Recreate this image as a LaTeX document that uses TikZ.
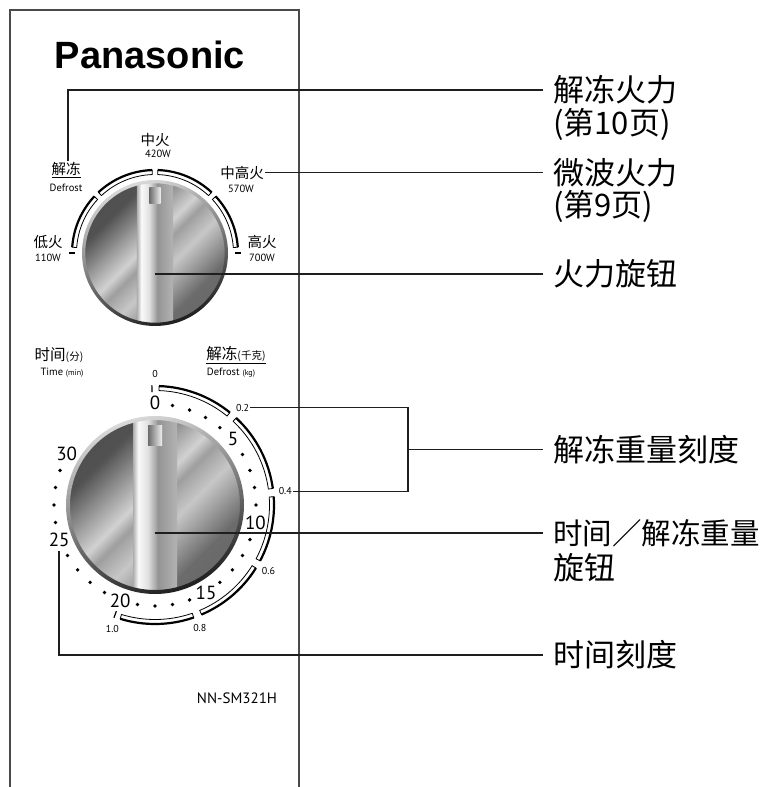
\documentclass[tikz,border=0pt]{standalone}
\usepackage{fontspec}
\newfontfamily\cjk{Noto Sans CJK SC}
\newfontfamily\dialfont{PT Sans}
\newfontfamily\logofont{Liberation Sans}
\usetikzlibrary{calc,positioning}

\definecolor{panelline}{HTML}{4A4A4A}
\definecolor{leadgray}{HTML}{1E1E1E}

% metal look of the knobs
\pgfdeclarehorizontalshading{knobface}{100bp}{color(0bp)=(black!72); color(30bp)=(black!68); color(46bp)=(black!18); color(50bp)=(black!38); color(57bp)=(black!22); color(70bp)=(black!58); color(100bp)=(black!62)}
\pgfdeclarehorizontalshading{knobgrip}{100bp}{color(0bp)=(black!32); color(25bp)=(black!32); color(31bp)=(black!2); color(42bp)=(black!12); color(51bp)=(black!35); color(53bp)=(black!42); color(75bp)=(black!30); color(100bp)=(black!30)}
\pgfdeclarehorizontalshading{knobmark}{100bp}{color(0bp)=(black!58); color(25bp)=(black!58); color(75bp)=(black!6); color(100bp)=(black!6)}

\tikzset{
  dialknob/.pic={
    \shade[shading=knobface, shading angle=-45] (0,0) circle[radius=86];
    \begin{scope}
      \clip (0,0) circle[radius=86];
      \shade[shading=knobgrip] (-22,-90) rectangle (22,90);
    \end{scope}
    \shade[shading=knobmark] (-7,60) rectangle (7,80);
    \shade[even odd rule, top color=black!15, bottom color=black!88, shading angle=20]
      (0,0) circle[radius=89] (0,0) circle[radius=85];
  },
  segin/.style={draw=black, line width=0.8, fill=white},
  segout/.style={draw=black, line width=2.2},
  dialtick/.style={draw=black, line width=1.2},
  leader/.style={draw=leadgray, line width=1.5},
  rlabel/.style={anchor=west, inner xsep=10pt, inner ysep=0pt, font=\cjk\fontsize{31}{35}\selectfont},
  plabel/.style={inner sep=1pt, font=\cjk\fontsize{14.5}{16}\selectfont},
  pwatt/.style={inner sep=1pt, font=\dialfont\fontsize{10.5}{12}\selectfont},
  minnum/.style={inner sep=1pt, font=\dialfont\fontsize{19}{20}\selectfont},
  kgnum/.style={inner sep=1pt, font=\dialfont\fontsize{10}{11}\selectfont},
}

% one segment of a double-line scale: centre, inner r, outer r, from, to
\newcommand\dialseg[5]{%
  \draw[segin] ($(#1)+(#4:#2)$) arc[start angle=#4, end angle=#5, radius=#2]
    -- ($(#1)+(#5:#3)$) arc[start angle=#5, end angle=#4, radius=#3] -- cycle;
  \draw[segout] ($(#1)+(#4:#3)$) arc[start angle=#4, end angle=#5, radius=#3];}

\begin{document}
\begin{tikzpicture}[x=1pt, y=1pt]
\useasboundingbox (0,0) rectangle (767,-787);

% PANEL

\draw[panelline, line width=1.2] (10,-787) -- (10,-10) -- (299,-10) -- (299,-787);
\node[font=\logofont\bfseries\fontsize{38}{40}\selectfont] (logo) at (150,-55) {Panasonic};
\node[font=\dialfont\fontsize{15}{18}\selectfont] (model) at (237,-698) {NN-SM321H};

% POWER KNOB

\coordinate (pc) at (155,-253);
\coordinate (pgrip) at (155,-274);
\pic[scale=0.82] at (pc) {dialknob};

% Power scale
\foreach \a/\b in {176/137, 133/92, 88/47, 43/4}
  \dialseg{pc}{78.5}{83}{\a}{\b};
\draw[dialtick] ($(pc)+(180:80)$) -- ($(pc)+(180:86)$);
\draw[dialtick] ($(pc)+(0:80)$) -- ($(pc)+(0:86)$);

% Power labels
\node[plabel] (pMid) at (155,-140) {中火};
\node[pwatt] (pMidW) at (158,-154) {420W};
\node[plabel] (pDef) at (66,-170) {\underline{解冻}};
\node[pwatt] (pDefE) at (66,-188) {Defrost};
\node[plabel] (pMH) at (242,-172.5) {中高火};
\node[pwatt] (pMHW) at (241,-189) {570W};
\node[plabel] (pLow) at (48,-242) {低火};
\node[pwatt] (pLowW) at (48,-258) {110W};
\node[plabel] (pHi) at (262,-242) {高火};
\node[pwatt] (pHiW) at (262,-258) {700W};

% TIME / DEFROST KNOB

\coordinate (tc) at (155,-505);
\coordinate (tgrip) at (155,-533);
\pic at (tc) {dialknob};

% Time scale
\foreach \k in {0,...,5}
  \foreach \j in {1,...,4}
    \fill ($(tc)+({90-10*(5*\k+\j)}:101)$) circle[radius=1.9];
\foreach \n in {0,5,...,30}
  \node[minnum] (t\n) at ($(tc)+({90-10*\n}:102)$) {\n};

% Defrost weight scale
\foreach \a/\b in {88/51, 47/8, 4/-28, -32/-67, -71/-107}
  \dialseg{tc}{114.5}{119}{\a}{\b};
\draw[dialtick] ($(tc)+(91.5:113)$) -- ($(tc)+(91.5:120)$);
\draw[dialtick] ($(tc)+(-110:113)$) -- ($(tc)+(-110:120)$);
\foreach \a/\t/\n in {90/0/kg0, 48/0.2/kg2, 6/0.4/kg4, -30/0.6/kg6, -70/0.8/kg8, -109/1.0/kg10}
  \node[kgnum] (\n) at ($(tc)+(\a:131)$) {\t};

% Scale headings
\node[font=\cjk\fontsize{15.5}{17}\selectfont, inner sep=1pt] (tHead) at (59,-355) {时间{\fontsize{10.5}{12}\selectfont(分)}};
\node[font=\dialfont\fontsize{10.5}{11}\selectfont, inner sep=1pt] (tHeadE) at (62,-373) {Time {\fontsize{8}{9}\selectfont(min)}};
\node[font=\cjk\fontsize{15.5}{17}\selectfont, inner sep=1pt] (kHead) at (236,-355) {\underline{解冻{\fontsize{10.5}{12}\selectfont(千克)}}};
\node[font=\dialfont\fontsize{10.5}{11}\selectfont, inner sep=1pt] (kHeadE) at (231,-373) {Defrost {\fontsize{8}{9}\selectfont(kg)}};

% RIGHT LABELS

\node[rlabel] (lblDP) at (543,-90) {解冻火力};
\node[rlabel] (lblDPp) at (543,-124) {(第10页)};
\node[rlabel] (lblMW) at (543,-172.5) {微波火力};
\node[rlabel] (lblMWp) at (543,-206) {(第9页)};
\node[rlabel] (lblPK) at (543,-274) {火力旋钮};
\node[rlabel] (lblDS) at (543,-449.5) {解冻重量刻度};
\node[rlabel, font=\cjk\fontsize{29.5}{35}\selectfont] (lblTK) at (543,-533) {时间／解冻重量};
\node[rlabel] (lblTKb) at (543,-568) {旋钮};
\node[rlabel] (lblTS) at (543,-655) {时间刻度};

% Leader lines
\draw[leader] ([xshift=2pt]pDef.north) |- (lblDP.west);
\draw[leader] (pMH.east) -- (lblMW.west);
\draw[leader] (pgrip) -- (lblPK.west);
\coordinate (brk) at (408,-449.5);
\draw[leader] (kg2.east) -| (brk);
\draw[leader] (kg4.east) -| (brk);
\draw[leader] (brk) -- (lblDS.west);
\draw[leader] (tgrip) -- (lblTK.west);
\draw[leader] ([yshift=-3pt]t25.south) |- (lblTS.west);

\end{tikzpicture}
\end{document}
